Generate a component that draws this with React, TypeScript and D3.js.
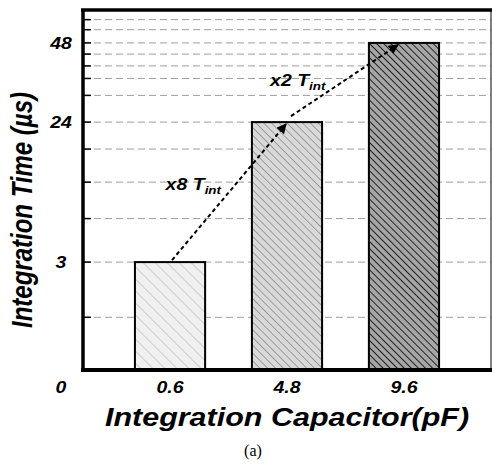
import React from 'react'
import * as d3 from 'd3'

// capacitor values (pF) and the integration time each one gives (µs)
const capacitors = ['0.6', '4.8', '9.6']
const times = [3, 24, 48]
const yTickLabels = [3, 24, 48]
// dashed grid levels
const gridValues = [0.5, 3, 7, 12, 18, 24, 31, 36, 40, 44, 48, 53, 57]
const barFills = ['#f0f0f0', '#d9d9d9', '#a6a6a6']
const hatchColors = ['#b4b4b4', '#767676', '#000000']
const hatchGaps = [8.5, 5.5, 5]
const arrows = [
    {from: '0.6', fromV: 3, to: '4.8', toV: 24, factor: 'x8'},
    {from: '4.8', fromV: 24, to: '9.6', toV: 48, factor: 'x2'},
]

const W = 492
const H = 466
const left = 83
const right = 491
const top = 10
const bottom = 370
const font = '"Liberation Sans", Arial, sans-serif'
const stretch = 1.22 // the original picture is squeezed wider than its text

const App: React.FC = () => {
    const x = d3.scaleBand<string>()
        .domain(capacitors)
        .range([left, right])
        .paddingInner(0.4)
        .paddingOuter(0.444)
    const y = d3.scalePow().exponent(0.4).domain([0, 61]).range([bottom, top])
    const bw = x.bandwidth()

    const label = (tx: number, ty: number, content: React.ReactNode, size: number, anchor = 'middle', key?: string | number) => (
        <g key={key} transform={`translate(${tx},${ty}) scale(${stretch},1)`}>
            <text textAnchor={anchor} fontFamily={font} fontWeight="bold" fontStyle="italic" fontSize={size} fill="#000">
                {content}
            </text>
        </g>
    )

    return (
        <svg width={W} height={H} style={{position: 'absolute', left: 0, top: 0, background: '#fff'}}>
            <defs>
                {capacitors.map((c, i) => (
                    <pattern key={c} id={`hatch${i}`} width={hatchGaps[i]} height={hatchGaps[i]}
                             patternUnits="userSpaceOnUse" patternTransform="rotate(-45)">
                        <rect width={hatchGaps[i]} height={hatchGaps[i]} fill={barFills[i]}/>
                        <line x1={0} y1={0} x2={0} y2={hatchGaps[i]} stroke={hatchColors[i]} strokeWidth={i === 2 ? 1.6 : 1.2}/>
                    </pattern>
                ))}
                <marker id="head" viewBox="0 0 10 10" refX="9" refY="5" markerWidth="5" markerHeight="5"
                        markerUnits="strokeWidth" orient="auto">
                    <path d="M0,0 L10,5 L0,10 Z" fill="#000"/>
                </marker>
            </defs>

            {/* grid */}
            {gridValues.map(v => (
                <g key={v}>
                    <line x1={left} x2={right} y1={y(v)} y2={y(v)} stroke="#9e9e9e" strokeWidth={1} strokeDasharray="7,4"/>
                    <line x1={left} x2={left + 8} y1={y(v)} y2={y(v)} stroke="#000" strokeWidth={1.5}/>
                </g>
            ))}

            {/* bars */}
            {capacitors.map((c, i) => (
                <rect key={c} x={x(c)} y={y(times[i])} width={bw} height={bottom - y(times[i])}
                      fill={`url(#hatch${i})`} stroke="#000" strokeWidth={2}/>
            ))}

            {/* frame */}
            <line x1={right} x2={right} y1={top} y2={bottom} stroke="#000" strokeWidth={1}/>
            <line x1={left - 2} x2={right + 1} y1={top} y2={top} stroke="#000" strokeWidth={3.5}/>
            <line x1={left} x2={left} y1={top} y2={bottom} stroke="#000" strokeWidth={3.5}/>
            <line x1={left - 2} x2={right + 1} y1={bottom} y2={bottom} stroke="#000" strokeWidth={4}/>

            {/* arrows */}
            {arrows.map((a, i) => {
                const x1 = x(a.from)! + bw / 2 + (i === 0 ? 2 : 4)
                const y1 = y(a.fromV) - (i === 0 ? 2 : 6)
                const x2 = x(a.to)! + bw / 2 - (i === 0 ? 1 : 6)
                const y2 = y(a.toV) + 2
                const mx = (x1 + x2) / 2
                const my = (y1 + y2) / 2
                return (
                    <g key={i}>
                        <line x1={x1} y1={y1} x2={x2} y2={y2} stroke="#000" strokeWidth={2}
                              strokeDasharray="4,3" markerEnd="url(#head)"/>
                        {label(i === 0 ? mx - 8 : mx - 19, i === 0 ? my - 2 : my + 5, (
                            <>
                                <tspan>{a.factor} T</tspan>
                                <tspan fontSize={11} dy={4}>int</tspan>
                            </>
                        ), 16, 'end')}
                    </g>
                )
            })}

            {/* y tick labels */}
            {yTickLabels.map(v => label(61, y(v) + 6, String(v), 16, 'middle', v))}
            {label(61, 393, '0', 16, 'middle', 'zero')}

            {/* x tick labels */}
            {capacitors.map(c => label(x(c)! + bw / 2, 393, c, 16, 'middle', c))}

            {/* axis titles */}
            {label(287, 426, 'Integration Capacitor(pF)', 25)}
            <g transform={`translate(32,210) scale(1.2,1) rotate(-90)`}>
                <text textAnchor="middle" fontFamily={font} fontWeight="bold" fontStyle="italic" fontSize={24} fill="#000">
                    Integration Time (µs)
                </text>
            </g>

            <text x={253} y={456} textAnchor="middle" fontFamily='"Liberation Serif", "Times New Roman", serif' fontSize={16}>(a)</text>
        </svg>
    )
}

export default App
